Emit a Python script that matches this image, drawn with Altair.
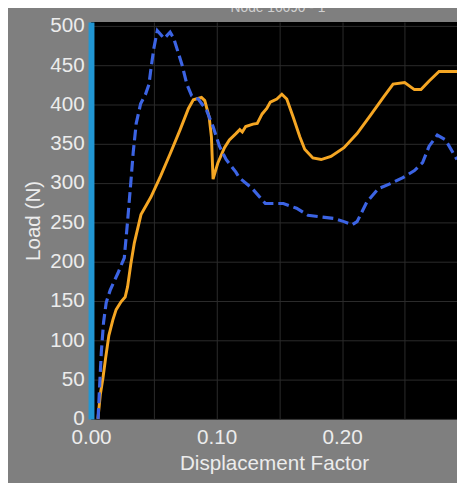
import altair as alt
import pandas as pd

# Blue dashed series (Displacement Factor, Load N)
blue_x = [0.0056, 0.0069, 0.0082, 0.0100, 0.0121, 0.0153, 0.0213, 0.0265, 0.0291, 0.0317,
          0.0336, 0.0360, 0.0395, 0.0434, 0.0462, 0.0477, 0.0501, 0.0528, 0.0583, 0.0630,
          0.0659, 0.0724, 0.0763, 0.0802, 0.0854, 0.0919, 0.0972, 0.1023, 0.1076, 0.1154,
          0.1180, 0.1285, 0.1389, 0.1532, 0.1637, 0.1728, 0.1833, 0.1937, 0.2015, 0.2080,
          0.2119, 0.2197, 0.2289, 0.2380, 0.2484, 0.2576, 0.2641, 0.2693, 0.2758, 0.2823,
          0.2915]
blue_y = [0, 43, 85, 123, 148, 164, 185, 205, 251, 301,
          339, 376, 401, 413, 426, 445, 472, 494, 484, 492,
          484, 451, 426, 411, 407, 393, 372, 347, 330, 314,
          307, 293, 274, 274, 268, 259, 257, 255, 251, 247,
          251, 276, 293, 299, 307, 316, 326, 347, 361, 355,
          330]

# Orange solid series
orange_x = [0.0055, 0.0074, 0.0095, 0.0116, 0.0142, 0.0174, 0.0200, 0.0239, 0.0272, 0.0291,
            0.0317, 0.0345, 0.0398, 0.0476, 0.0554, 0.0632, 0.0710, 0.0776, 0.0815, 0.0880,
            0.0906, 0.0941, 0.0959, 0.0966, 0.0972, 0.1011, 0.1063, 0.1102, 0.1154, 0.1185,
            0.1205, 0.1232, 0.1290, 0.1324, 0.1363, 0.1400, 0.1428, 0.1480, 0.1520, 0.1559,
            0.1610, 0.1663, 0.1702, 0.1767, 0.1833, 0.1911, 0.2015, 0.2119, 0.2224, 0.2328,
            0.2406, 0.2498, 0.2576, 0.2628, 0.2693, 0.2772, 0.2915]
orange_y = [0, 31, 52, 77, 106, 126, 139, 149, 155, 168,
            197, 224, 260, 282, 309, 338, 368, 395, 406, 409,
            405, 384, 359, 330, 305, 326, 345, 355, 363, 368,
            365, 372, 375, 376, 388, 395, 403, 407, 413, 407,
            384, 359, 343, 332, 330, 334, 345, 363, 386, 409,
            426, 428, 419, 419, 430, 442, 442]

assert len(blue_x) == len(blue_y) and len(orange_x) == len(orange_y)

y_ticks = list(range(0, 501, 25))
x_ticks = [0.0, 0.05, 0.10, 0.15, 0.20, 0.25]

blue_df = pd.DataFrame({"x": blue_x, "y": blue_y, "i": range(len(blue_x))})
orange_df = pd.DataFrame({"x": orange_x, "y": orange_y, "i": range(len(orange_x))})

xscale = alt.Scale(domain=[0, 0.2915], nice=False, zero=False)
yscale = alt.Scale(domain=[0, 505], nice=False)

xaxis = alt.Axis(
    title="Displacement Factor", values=x_ticks,
    labelExpr="round(datum.value*100) % 10 == 0 ? format(datum.value, '.2f') : ''",
    domain=False, ticks=False, tickSize=0, labelPadding=8, titlePadding=5,
    grid=True, gridColor="#2c2c2c", gridWidth=1, labelFlush=False,
)
yaxis = alt.Axis(
    title="Load (N)", values=y_ticks,
    labelExpr="datum.value % 50 == 0 ? datum.label : ''",
    domain=True, domainColor="#2196d3", domainWidth=6,
    ticks=False, tickSize=0, labelPadding=7, titlePadding=6,
    grid=True, gridColor="#2c2c2c", gridWidth=1,
)

orange = alt.Chart(orange_df).mark_line(color="#f5a623", strokeWidth=3, clip=True).encode(
    x=alt.X("x:Q", scale=xscale, axis=xaxis),
    y=alt.Y("y:Q", scale=yscale, axis=yaxis),
    order="i:Q",
)
blue = alt.Chart(blue_df).mark_line(color="#3c64e4", strokeWidth=3.2, strokeDash=[11, 5], clip=True).encode(
    x=alt.X("x:Q", scale=xscale),
    y=alt.Y("y:Q", scale=yscale),
    order="i:Q",
)

chart = alt.layer(orange, blue).properties(
    width=372.5, height=404,
    autosize=alt.AutoSizeParams(type="none"),
    padding={"left": 84.5, "top": 10, "right": 0, "bottom": 61},
    background="#7f7f7f",
    title=alt.TitleParams("Node 16690 - 1", fontSize=14, color="#d0d0d0",
                          fontWeight="normal", font="Liberation Sans",
                          anchor="middle", offset=0, dx=4),
).configure_view(fill="black", strokeWidth=0).configure_axis(
    labelFont="Liberation Sans", titleFont="Liberation Sans",
    labelFontSize=21, titleFontSize=21, labelColor="#ececec", titleColor="#ececec",
    titleFontWeight="normal",
)

chart.save("out.html", embed_options={"renderer": "svg", "actions": False})
